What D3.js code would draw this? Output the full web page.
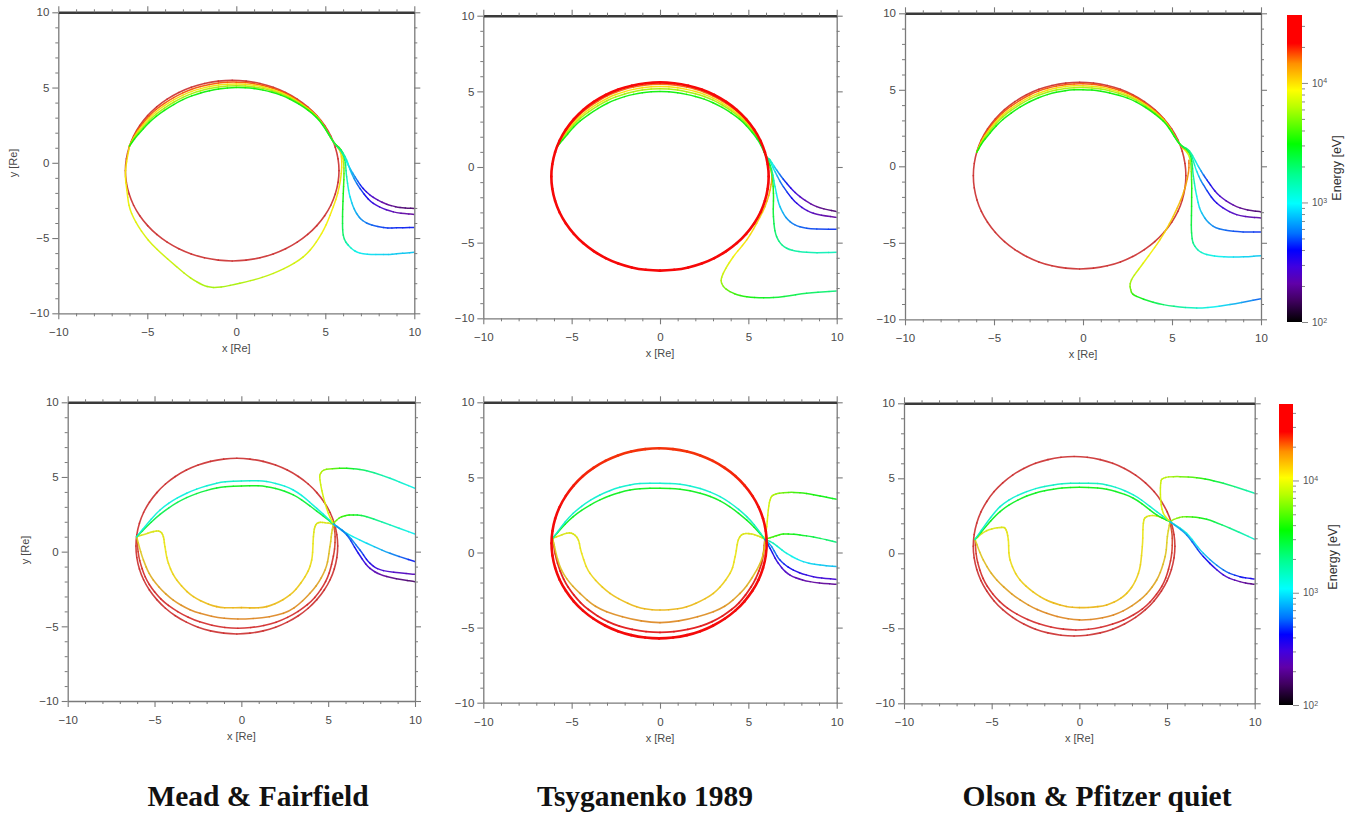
<!DOCTYPE html>
<html><head><meta charset="utf-8">
<script src="https://cdn.jsdelivr.net/npm/d3@7"></script>
<style>body{margin:0;background:#fff}svg{display:block}</style>
</head><body>
<svg id="chart" width="1352" height="816"></svg>
<script>
// ---------------- DATA (x [Re], y [Re], energy [eV]) ----------------
const titles = ["Mead & Fairfield", "Tsyganenko 1989", "Olson & Pfitzer quiet"];
const axisMajorTicks = [-10, -5, 0, 5, 10];
const axisMinorTicks = [-9,-8,-7,-6,-4,-3,-2,-1,1,2,3,4,6,7,8,9];
const cbarMajorTicks = [100, 1000, 10000];
const cbarMinorTicks = [200,300,400,500,600,700,800,900,2000,3000,4000,5000,6000,7000,8000,9000,20000,30000,40000];
const cbarMaxTop = 37000, cbarMaxBottom = 48000;

// Mead & Fairfield, top
const mfTopRing = [[5.77,-0.52,28000],[5.31,1.78,28000],[4.01,3.72,30000],[2.07,5.02,30000],[-0.23,5.48,30000],[-2.53,5.02,30000],[-4.47,3.72,30000],[-5.77,1.78,30000],[-6.23,-0.52,28000],[-5.77,-2.82,26000],[-4.47,-4.76,26000],[-2.53,-6.06,26000],[-0.23,-6.52,26000],[2.07,-6.06,26000],[4.01,-4.76,26000],[5.31,-2.82,26000]];
const mfTopA = [[10,-3.03,160],[9.2,-2.97,170],[8.45,-2.75,200],[7.7,-2.3,260],[7.13,-1.71,380],[6.67,-0.93,600],[6.29,-0.16,900],[5.95,0.65,1500],[5.45,1.41,2400],[4.5,3.02,3000],[3.0,4.24,3100],[1.5,4.83,3100],[0,5.0,3100],[-1.5,4.79,3100],[-3.0,4.2,3100],[-4.5,3.09,3100],[-5.5,1.9,3100],[-6.0,1.12,3100]];
const mfTopB = [[10,-3.43,200],[8.82,-3.26,230],[7.7,-2.7,320],[6.95,-1.71,480],[6.48,-0.71,750],[6.2,0.18,1200],[5.88,0.85,2200],[5.45,1.41,4000],[4.5,3.06,5500],[3.0,4.32,5900],[1.5,4.93,5900],[0,5.12,5900],[-1.5,4.93,5900],[-3.0,4.35,5900],[-4.5,3.24,5900],[-5.5,2.01,5900],[-6.0,1.12,5900]];
const mfTopC = [[10,-4.3,420],[9.0,-4.32,440],[8.26,-4.3,470],[7.32,-4.0,560],[6.76,-3.37,700],[6.39,-2.26,900],[6.2,-0.93,1300],[6.1,0.18,2200],[5.85,0.9,4500],[5.45,1.41,7000],[4.5,3.1,9000],[3.0,4.39,9500],[1.5,5.03,9500],[0,5.24,9500],[-1.5,5.07,9500],[-3.0,4.5,9500],[-4.5,3.39,9500],[-5.5,2.13,9500],[-6.0,1.12,9500]];
const mfTopD = [[10,-5.95,800],[9.0,-6.05,820],[8.26,-6.1,850],[6.95,-6.0,950],[6.29,-5.47,1300],[6.01,-4.8,2000],[5.97,-3.59,2600],[6.01,-2.04,3000],[6.05,-0.71,4000],[6.0,0.3,7000],[5.75,1.0,11000],[5.45,1.41,15000],[4.5,3.13,17000],[3.0,4.47,17000],[1.5,5.13,17000],[0,5.36,17000],[-1.5,5.2,17000],[-3.0,4.65,17000],[-4.5,3.54,17000],[-5.5,2.24,17000],[-6.0,1.12,17000]];
const mfTopLoop = [[-6.0,1.12,9500],[-6.22,-0.5,9000],[-6.15,-1.8,8500],[-5.88,-3.37,8000],[-4.94,-5.14,7500],[-3.35,-6.91,6800],[-2.23,-7.9,6200],[-1.29,-8.28,5800],[0.2,-8.0,6000],[2.08,-7.35,6800],[3.76,-6.25,7500],[4.79,-4.7,8500],[5.45,-2.92,9000],[5.78,-1.6,9500],[5.92,-0.3,9500],[5.85,0.7,10000],[5.45,1.41,11000]];

// Tsyganenko 1989, top
const t89TopRing = [[6.15,-0.63,30000],[5.68,1.75,30000],[4.35,3.77,30000],[2.36,5.12,30000],[0,5.59,30000],[-2.36,5.12,30000],[-4.35,3.77,30000],[-5.68,1.75,30000],[-6.15,-0.63,30000],[-5.68,-3.01,30000],[-4.35,-5.03,30000],[-2.36,-6.38,30000],[0,-6.85,30000],[2.36,-6.38,30000],[4.35,-5.03,30000],[5.68,-3.01,30000]];
const t89TopA = [[10,-2.95,160],[8.87,-2.62,190],[7.92,-1.96,260],[7.17,-1.08,400],[6.6,-0.2,700],[6.23,0.46,1300],[6.0,0.73,2000],[5.5,1.85,2800],[4.5,3.16,3100],[3.0,4.25,3100],[1.5,4.8,3100],[0,4.99,3100],[-1.5,4.8,3100],[-3.0,4.2,3100],[-4.5,3.06,3100],[-5.5,1.8,3100],[-5.85,1.29,3100]];
const t89TopB = [[10,-3.33,200],[8.68,-3.06,240],[7.74,-2.4,330],[6.98,-1.3,500],[6.51,-0.31,850],[6.23,0.35,1500],[6.0,0.73,3000],[5.5,1.94,5000],[4.5,3.3,5900],[3.0,4.42,5900],[1.5,4.98,5900],[0,5.17,5900],[-1.5,4.98,5900],[-3.0,4.38,5900],[-4.5,3.23,5900],[-5.5,1.91,5900],[-5.85,1.29,5900]];
const t89TopC = [[10,-4.12,450],[8.3,-4.05,500],[7.36,-3.61,600],[6.79,-2.62,800],[6.51,-1.3,1100],[6.32,-0.2,1800],[6.0,0.73,5000],[5.5,2.02,8000],[4.5,3.41,9500],[3.0,4.55,9500],[1.5,5.13,9500],[0,5.32,9500],[-1.5,5.13,9500],[-3.0,4.53,9500],[-4.5,3.36,9500],[-5.5,1.99,9500],[-5.85,1.29,9500]];
const t89TopD = [[10,-5.64,1300],[8.3,-5.64,1400],[7.17,-5.37,1600],[6.6,-4.6,1900],[6.42,-3.28,2400],[6.42,-1.74,3000],[6.32,-0.42,4500],[6.0,0.73,9000],[5.5,2.09,14000],[4.5,3.52,16000],[3.0,4.69,16000],[1.5,5.28,16000],[0,5.47,16000],[-1.5,5.28,16000],[-3.0,4.68,16000],[-4.5,3.5,16000],[-5.5,2.08,16000],[-5.85,1.29,16000]];
const t89TopE = [[10,-8.19,1800],[8.3,-8.35,2100],[6.42,-8.63,2600],[4.91,-8.57,3200],[3.96,-8.24,4000],[3.49,-7.69,5500],[3.58,-7.03,7000],[4.15,-5.93,8500],[4.91,-4.82,9500],[5.47,-3.72,10000],[5.94,-2.62,11000],[6.23,-1.52,12000],[6.32,-0.42,14000],[6.0,0.73,17000]];

// Olson & Pfitzer quiet, top
const opTopRing = [[5.78,-0.61,28000],[5.33,1.73,28000],[4.03,3.70,30000],[2.10,5.03,30000],[-0.19,5.49,30000],[-2.48,5.03,30000],[-4.41,3.70,30000],[-5.71,1.73,30000],[-6.16,-0.61,28000],[-5.71,-2.95,26000],[-4.41,-4.92,26000],[-2.48,-6.25,26000],[-0.19,-6.71,26000],[2.10,-6.25,26000],[4.03,-4.92,26000],[5.33,-2.95,26000]];
const opTopA = [[10,-2.98,160],[8.82,-2.72,190],[7.7,-1.96,270],[6.95,-0.87,450],[6.48,0,800],[5.98,1.0,1700],[5.4,1.5,2600],[4.5,2.96,3100],[3.0,4.2,3100],[1.5,4.79,3100],[0,5.01,3100],[-1.5,4.84,3100],[-3.0,4.22,3100],[-4.5,3.06,3100],[-5.5,1.78,3100],[-5.97,0.92,3100]];
const opTopB = [[10,-3.38,210],[8.63,-3.16,250],[7.51,-2.4,340],[6.76,-1.2,550],[6.39,-0.33,900],[6.0,0.9,2100],[5.4,1.5,4500],[4.5,3.02,5900],[3.0,4.31,5900],[1.5,4.93,5900],[0,5.15,5900],[-1.5,4.99,5900],[-3.0,4.39,5900],[-4.5,3.23,5900],[-5.5,1.9,5900],[-5.97,0.92,5900]];
const opTopC = [[10,-4.29,450],[8.45,-4.25,500],[7.32,-3.92,600],[6.67,-3.05,800],[6.39,-1.96,1000],[6.2,-0.65,1500],[6.02,0.75,3200],[5.4,1.5,7500],[4.5,3.07,9500],[3.0,4.39,9500],[1.5,5.04,9500],[0,5.27,9500],[-1.5,5.12,9500],[-3.0,4.52,9500],[-4.5,3.36,9500],[-5.5,2.0,9500],[-5.97,0.92,9500]];
const opTopD = [[10,-5.84,800],[8.45,-5.93,900],[6.95,-5.77,1100],[6.29,-5.23,1500],[6.1,-4.36,2200],[6.1,-2.61,2800],[6.1,-0.87,3500],[5.98,0.6,6500],[5.4,1.5,13000],[4.5,3.12,17000],[3.0,4.48,17000],[1.5,5.15,17000],[0,5.39,17000],[-1.5,5.24,17000],[-3.0,4.66,17000],[-4.5,3.5,17000],[-5.5,2.1,17000],[-5.97,0.92,17000]];
const opTopE = [[10,-8.65,500],[8.26,-9.04,800],[6.39,-9.26,1200],[4.51,-9.04,2000],[3.01,-8.5,3200],[2.68,-8.06,4500],[2.73,-7.41,6000],[3.39,-6.32,8000],[4.33,-4.79,9500],[5.07,-3.27,10500],[5.64,-1.74,12000],[5.92,-0.44,14000],[5.95,0.4,16000]];

// Mead & Fairfield, bottom
const mfBotRing = [[5.55,0.37,35000],[5.11,2.62,35000],[3.85,4.53,35000],[1.97,5.8,35000],[-0.26,6.25,35000],[-2.49,5.8,35000],[-4.37,4.53,35000],[-5.63,2.62,35000],[-6.07,0.37,35000],[-5.63,-1.88,35000],[-4.37,-3.79,35000],[-2.49,-5.06,35000],[-0.26,-5.51,35000],[1.97,-5.06,35000],[3.85,-3.79,35000],[5.11,-1.88,35000]];
const mfBotRing2 = [[-6.03,1.0,24000],[-5.85,-0.6,26000],[-5.3,-2.2,28000],[-4.2,-3.6,30000],[-2.4,-4.7,30000],[-0.2,-5.13,30000],[2.0,-4.72,30000],[3.8,-3.55,30000],[4.85,-2.0,28000],[5.3,-0.3,26000],[5.4,1.0,24000],[5.3,1.85,22000]];
const mfBotRing3 = [[-6.03,1.0,10000],[-5.64,-0.56,12000],[-5.07,-1.9,14000],[-3.92,-3.24,16000],[-2.38,-4.13,18000],[-0.2,-4.51,18000],[2.42,-4.13,18000],[3.95,-2.79,16000],[4.82,-1.23,14000],[5.1,0.33,12000],[5.2,1.23,10500],[5.3,1.85,10000]];
const mfBotRing4 = [[-6.03,1.0,9000],[-5.07,1.34,9500],[-4.68,1.34,9500],[-4.49,1.0,10000],[-4.4,0.33,10500],[-4.2,-0.78,11000],[-3.72,-1.9,12000],[-2.76,-3.01,13000],[-1.42,-3.68,14000],[0,-3.75,14000],[1.46,-3.68,14000],[2.8,-2.9,13000],[3.67,-1.67,12000],[4.05,-0.56,11000],[4.15,1.0,10000],[4.24,1.67,9500],[4.43,1.94,9500],[4.82,1.94,9500],[5.3,1.85,9500]];
const mfBotCyan = [[-6.03,1.0,1300],[-4.68,2.79,1200],[-3.15,3.91,1200],[-1.42,4.58,1300],[0,4.73,1400],[1.46,4.69,1300],[2.99,4.13,1200],[4.34,2.9,1200],[5.3,1.85,1300]];
const mfBotGreen = [[-6.03,1.0,3500],[-4.68,2.5,2600],[-3.15,3.62,2600],[-1.42,4.26,3000],[0,4.4,3500],[1.46,4.35,3200],[2.99,3.8,3000],[4.34,2.72,2800],[5.3,1.85,3500]];
const mfBotR1 = [[5.3,1.85,10000],[5.01,2.57,9500],[4.72,3.68,9000],[4.53,4.8,8500],[4.57,5.25,8000],[4.91,5.51,6500],[6.07,5.58,3500],[7.22,5.42,2200],[8.56,4.91,1500],[10,4.24,1100]];
const mfBotR2 = [[5.3,1.85,6000],[5.39,2.0,6000],[5.78,2.34,4500],[6.45,2.46,3500],[7.22,2.34,2500],[8.56,1.79,1500],[10,1.18,1000]];
const mfBotR3 = [[5.3,1.85,1500],[6.07,1.23,1200],[7.22,0.56,1000],[8.56,-0.11,700],[10,-0.67,420]];
const mfBotR4 = [[5.3,1.85,1000],[6.07,1.18,800],[6.83,0.11,550],[7.41,-0.78,380],[8.18,-1.27,300],[10,-1.52,250]];
const mfBotR5 = [[5.3,1.85,800],[6.07,1.12,600],[6.74,-0.11,400],[7.41,-1.12,280],[8.37,-1.67,200],[10,-2.01,160]];

// Tsyganenko 1989, bottom
const t89BotRing = [[6.04,0.61,30000],[5.58,3.03,27000],[4.26,5.09,25000],[2.28,6.46,24000],[-0.05,6.94,24000],[-2.38,6.46,24000],[-4.36,5.09,25000],[-5.68,3.03,27000],[-6.14,0.61,30000],[-5.68,-1.81,34000],[-4.36,-3.87,36000],[-2.38,-5.24,36000],[-0.05,-5.72,36000],[2.28,-5.24,36000],[4.26,-3.87,36000],[5.58,-1.81,34000]];
const t89BotRing2 = [[-6.08,0.94,24000],[-5.8,-0.7,26000],[-5.2,-2.3,28000],[-4.05,-3.8,30000],[-2.3,-4.9,30000],[0,-5.32,30000],[2.3,-4.9,30000],[4.05,-3.8,30000],[5.15,-2.3,28000],[5.75,-0.7,26000],[5.94,0.88,24000]];
const t89BotRing3 = [[-6.08,0.94,10000],[-5.57,-1.17,12000],[-4.53,-2.72,15000],[-3.02,-3.94,17000],[0,-4.67,18000],[3.02,-3.94,17000],[4.53,-2.72,15000],[5.47,-1.17,12000],[5.85,-0.06,11000],[5.94,0.88,10000]];
const t89BotRing4 = [[-6.08,0.94,9500],[-5.28,1.28,9500],[-4.91,1.23,9500],[-4.62,0.83,10000],[-4.43,-0.06,10500],[-3.96,-1.39,11500],[-2.83,-2.72,13000],[-1.32,-3.61,14000],[0,-3.83,14000],[1.51,-3.61,14000],[3.02,-2.72,13000],[3.96,-1.39,11500],[4.25,-0.28,10500],[4.43,0.83,10000],[4.72,1.23,9500],[5.19,1.23,9500],[5.66,1.05,9500],[5.94,0.88,9500]];
const t89BotCyan = [[-6.08,0.94,1400],[-4.91,2.61,1300],[-3.4,3.83,1300],[-1.7,4.5,1300],[0,4.61,1300],[1.7,4.43,1300],[3.4,3.72,1300],[4.91,2.39,1400],[5.94,0.88,1500]];
const t89BotGreen = [[-6.08,0.94,3500],[-4.91,2.39,3200],[-3.4,3.5,3200],[-1.7,4.16,3300],[0,4.27,3500],[1.7,4.11,3300],[3.4,3.44,3200],[4.91,2.16,3200],[5.94,0.88,3500]];
const t89BotR1 = [[5.94,0.88,10000],[6.04,1.72,9500],[6.13,2.83,9000],[6.23,3.5,8500],[6.42,3.83,7500],[6.98,3.98,5500],[7.92,3.98,4200],[9.06,3.76,3500],[10,3.54,3200]];
const t89BotR2 = [[5.94,0.88,5000],[6.42,1.05,4500],[6.98,1.23,4000],[7.92,1.17,3200],[9.06,0.94,2500],[10,0.68,2000]];
const t89BotR3 = [[5.94,0.88,1800],[6.42,0.61,1500],[7.17,-0.06,1200],[8.11,-0.61,1000],[9.06,-0.83,900],[10,-0.94,850]];
const t89BotR4 = [[5.94,0.88,900],[6.32,0.39,700],[6.79,-0.5,500],[7.55,-1.17,400],[8.68,-1.61,330],[10,-1.79,300]];
const t89BotR5 = [[5.94,0.88,600],[6.23,0.28,450],[6.7,-0.72,330],[7.36,-1.5,260],[8.49,-1.94,220],[10,-2.12,200]];

// Olson & Pfitzer quiet, bottom
const opBotRing = [[5.45,0.47,35000],[5.01,2.76,35000],[3.77,4.70,35000],[1.9,6.0,35000],[-0.3,6.45,35000],[-2.5,6.0,35000],[-4.37,4.70,35000],[-5.61,2.76,35000],[-6.05,0.47,35000],[-5.61,-1.82,35000],[-4.37,-3.76,35000],[-2.5,-5.06,35000],[-0.3,-5.51,35000],[1.9,-5.06,35000],[3.77,-3.76,35000],[5.01,-1.82,35000]];
const opBotRing2 = [[-5.95,0.93,24000],[-5.8,-0.6,26000],[-5.25,-2.2,28000],[-4.1,-3.65,30000],[-2.3,-4.7,30000],[-0.2,-5.11,30000],[1.9,-4.72,30000],[3.6,-3.7,30000],[4.7,-2.2,28000],[5.2,-0.5,26000],[5.3,1.0,24000],[5.17,2.11,22000]];
const opBotRing3 = [[-5.95,0.93,10000],[-5.48,-0.44,12000],[-4.71,-1.78,14000],[-3.38,-3.11,16000],[-1.86,-4.0,18000],[0,-4.44,18000],[1.94,-4.11,18000],[3.46,-3.11,16000],[4.41,-1.78,14000],[4.89,-0.22,12000],[5.02,1.11,10500],[5.17,2.11,10000]];
const opBotRing4 = [[-5.95,0.93,9000],[-5.29,1.51,9500],[-4.43,1.73,9500],[-4.18,1.56,10000],[-4.05,0.89,10500],[-3.95,-0.44,11000],[-3.38,-1.78,12000],[-2.24,-2.89,13000],[-1.1,-3.44,14000],[0,-3.62,14000],[1.56,-3.44,14000],[2.7,-2.67,13000],[3.37,-1.33,12000],[3.59,0.44,11000],[3.65,2.0,10000],[3.84,2.44,9500],[4.41,2.49,9500],[5.17,2.11,9500]];
const opBotCyan = [[-5.95,0.93,1400],[-4.52,3.11,1300],[-3.0,4.11,1300],[-1.48,4.56,1400],[0,4.67,1500],[1.56,4.56,1400],[3.08,3.89,1300],[4.41,2.78,1300],[5.17,2.11,1400]];
const opBotGreen = [[-5.95,0.93,3500],[-4.52,2.78,3200],[-3.0,3.82,3200],[-1.48,4.27,3300],[0,4.4,3500],[1.56,4.27,3300],[3.08,3.67,3200],[4.41,2.56,3200],[5.17,2.11,3500]];
const opBotR1 = [[5.17,2.11,10000],[4.79,2.67,9500],[4.64,3.56,9000],[4.64,4.67,8500],[4.79,5.0,8000],[5.36,5.11,7000],[6.69,5.04,4500],[8.21,4.67,2500],[10,4.0,1500]];
const opBotR2 = [[5.17,2.11,7000],[5.55,2.33,6500],[6.12,2.44,5000],[7.26,2.27,3200],[8.59,1.67,2000],[10,0.93,1250]];
const opBotR3 = [[5.17,2.11,1500],[6.12,1.33,1200],[7.07,0,900],[8.21,-1.11,600],[9.16,-1.56,450],[10,-1.71,380]];
const opBotR4 = [[5.17,2.11,900],[6.12,1.22,700],[7.07,-0.22,450],[8.21,-1.44,300],[9.16,-1.89,220],[10,-2.07,180]];

// colour table (fraction of colour bar -> colour)
const cmapStops = [[0,'#000000'],[0.07,'#400060'],[0.125,'#6000a8'],[0.18,'#4000e0'],[0.234,'#0000ff'],[0.288,'#0070ff'],[0.386,'#00ffff'],[0.48,'#00ff90'],[0.58,'#00ff00'],[0.70,'#b8ff00'],[0.755,'#ffff00'],[0.842,'#ff9000'],[0.908,'#ff0000'],[1,'#ff0000']];

// ---------------- LAYOUT / STYLE ----------------
const styles = {
  ring:  {w:1.6, dim:0.45, op:0.9},
  ring2: {w:1.6, dim:0.4, op:0.9},
  ring3: {w:1.6, dim:0.3, op:0.9},
  ring4: {w:1.6, dim:0.18, op:0.9},
  bright:{w:2.6, dim:0.08, op:1},
  brightB:{w:2.6, dim:0.1, op:1},
  ring2b:{w:1.8, dim:0.25, op:0.95},
  line:  {w:1.5, dim:0.1, op:0.95}
};
const panels = [
  {box:[58.3,414.3,12.3,313.3], max:cbarMaxTop, ylab:[13,163], curves:[
    [mfTopRing,true,'ring'],[mfTopLoop,false,'line'],[mfTopD,false,'line'],[mfTopC,false,'line'],[mfTopB,false,'line'],[mfTopA,false,'line']]},
  {box:[483.3,836.7,15.7,318.3], max:cbarMaxTop, curves:[
    [t89TopE,false,'line'],[t89TopD,false,'line'],[t89TopC,false,'line'],[t89TopB,false,'line'],[t89TopA,false,'line'],[t89TopRing,true,'bright']]},
  {box:[905,1261,13.3,319.3], max:cbarMaxTop, curves:[
    [opTopRing,true,'ring'],[opTopE,false,'line'],[opTopD,false,'line'],[opTopC,false,'line'],[opTopB,false,'line'],[opTopA,false,'line']]},
  {box:[67.7,415,402.3,701], max:cbarMaxBottom, ylab:[25,550], curves:[
    [mfBotRing,true,'ring'],[mfBotRing2,false,'ring2'],[mfBotRing3,false,'ring3'],[mfBotRing4,false,'ring4'],[mfBotGreen,false,'line'],[mfBotCyan,false,'line'],
    [mfBotR1,false,'line'],[mfBotR2,false,'line'],[mfBotR3,false,'line'],[mfBotR4,false,'line'],[mfBotR5,false,'line']]},
  {box:[483.3,836.7,402.3,702.7], max:cbarMaxBottom, curves:[
    [t89BotRing2,false,'ring2b'],[t89BotRing3,false,'ring3'],[t89BotRing4,false,'ring4'],[t89BotGreen,false,'line'],[t89BotCyan,false,'line'],
    [t89BotR1,false,'line'],[t89BotR2,false,'line'],[t89BotR3,false,'line'],[t89BotR4,false,'line'],[t89BotR5,false,'line'],[t89BotRing,true,'brightB']]},
  {box:[904,1254.7,403.3,703.3], max:cbarMaxBottom, curves:[
    [opBotRing,true,'ring'],[opBotRing2,false,'ring2'],[opBotRing3,false,'ring3'],[opBotRing4,false,'ring4'],[opBotGreen,false,'line'],[opBotCyan,false,'line'],
    [opBotR1,false,'line'],[opBotR2,false,'line'],[opBotR3,false,'line'],[opBotR4,false,'line']]}
];
const cbars = [
  {box:[1287,1302,15,322], max:cbarMaxTop, lab:[1337,168]},
  {box:[1279,1293,404,705], max:cbarMaxBottom, lab:[1333,557]}
];
const titleX = [258, 645, 1097], titleY = 806;

// ---------------- DRAWING ----------------
const svg = d3.select('#chart');
svg.append('rect').attr('width',1352).attr('height',816).attr('fill','#fff');
const cmap = d3.scaleLinear().domain(cmapStops.map(d=>d[0])).range(cmapStops.map(d=>d[1]))
  .interpolate(d3.interpolateRgb).clamp(true);
const FONT = "'Liberation Sans', Arial, Helvetica, sans-serif";
const AX = '#7a7a7a';

function lerp(a,b,t){return [a[0]+(b[0]-a[0])*t, a[1]+(b[1]-a[1])*t];}
function splitBez(b,t){
  const [a,b1,c,d]=b; const ab=lerp(a,b1,t), bc=lerp(b1,c,t), cd=lerp(c,d,t);
  const abc=lerp(ab,bc,t), bcd=lerp(bc,cd,t), m=lerp(abc,bcd,t);
  return [[a,ab,abc,m],[m,bcd,cd,d]];
}

function drawCurve(g, x, y, fScale, pts, closed, st){
  const n = pts.length;
  const P = pts.map(d=>[x(d[0]), y(d[1])]);
  const segs = closed ? n : n-1;
  const K = 3;
  for(let i=0;i<segs;i++){
    const i0 = closed ? (i-1+n)%n : Math.max(i-1,0);
    const i2 = closed ? (i+1)%n : i+1;
    const i3 = closed ? (i+2)%n : Math.min(i+2,n-1);
    const p0=P[i0], p1=P[i], p2=P[i2], p3=P[i3];
    const c1=[p1[0]+(p2[0]-p0[0])/6, p1[1]+(p2[1]-p0[1])/6];
    const c2=[p2[0]-(p3[0]-p1[0])/6, p2[1]-(p3[1]-p1[1])/6];
    let rest=[p1,c1,c2,p2];
    const la=Math.log10(pts[i][2]), lb=Math.log10(pts[i2][2]);
    for(let k=0;k<K;k++){
      let piece;
      if(k<K-1){ const s=splitBez(rest,1/(K-k)); piece=s[0]; rest=s[1]; } else piece=rest;
      const t=(k+0.5)/K;
      const E=Math.pow(10, la+(lb-la)*t);
      let col=cmap(fScale(E));
      col=d3.interpolateRgb(col,'#8c6464')(st.dim);
      const pth=d3.path();
      pth.moveTo(piece[0][0],piece[0][1]);
      pth.bezierCurveTo(piece[1][0],piece[1][1],piece[2][0],piece[2][1],piece[3][0],piece[3][1]);
      g.append('path').attr('d',pth.toString()).attr('fill','none').attr('stroke',col)
        .attr('stroke-width',st.w).attr('stroke-linecap','round').attr('stroke-opacity',st.op);
    }
  }
}

panels.forEach((p,pi)=>{
  const [x0,x1,y0,y1]=p.box;
  const x=d3.scaleLinear().domain([-10,10]).range([x0,x1]);
  const y=d3.scaleLinear().domain([10,-10]).range([y0,y1]);
  const fScale=d3.scaleLog().domain([100,p.max]).range([0,1]).clamp(true);
  const g=svg.append('g');
  const cid='clip'+pi;
  svg.append('defs').append('clipPath').attr('id',cid).append('rect')
    .attr('x',x0).attr('y',y0).attr('width',x1-x0).attr('height',y1-y0);
  const cg=g.append('g').attr('clip-path',`url(#${cid})`);
  p.curves.forEach(c=>drawCurve(cg,x,y,fScale,c[0],c[1],styles[c[2]]));

  const fmt=d3.format('d');
  function styleAxis(sel, width, color){
    sel.select('.domain').attr('stroke',color).attr('stroke-width',width);
    sel.selectAll('.tick line').attr('stroke',AX).attr('stroke-width',1.1);
    sel.selectAll('.tick text').attr('fill','#4a4a4a').style('font-family',FONT).style('font-size','11.5px');
  }
  const gb=g.append('g').attr('transform',`translate(0,${y1})`);
  gb.call(d3.axisBottom(x).tickValues(axisMajorTicks).tickSize(6).tickSizeOuter(0).tickPadding(9).tickFormat(fmt));
  styleAxis(gb,1.3,AX);
  const gbm=g.append('g').attr('transform',`translate(0,${y1})`);
  gbm.call(d3.axisBottom(x).tickValues(axisMinorTicks).tickSize(3).tickSizeOuter(0).tickFormat(''));
  gbm.select('.domain').remove(); gbm.selectAll('.tick line').attr('stroke',AX);
  const gl=g.append('g').attr('transform',`translate(${x0},0)`);
  gl.call(d3.axisLeft(y).tickValues(axisMajorTicks).tickSize(6).tickSizeOuter(0).tickPadding(3).tickFormat(fmt));
  styleAxis(gl,1.3,AX);
  const glm=g.append('g').attr('transform',`translate(${x0},0)`);
  glm.call(d3.axisLeft(y).tickValues(axisMinorTicks).tickSize(3).tickSizeOuter(0).tickFormat(''));
  glm.select('.domain').remove(); glm.selectAll('.tick line').attr('stroke',AX);
  const gr=g.append('g').attr('transform',`translate(${x1},0)`);
  gr.call(d3.axisRight(y).tickValues(axisMajorTicks).tickSize(6).tickSizeOuter(0).tickFormat(''));
  styleAxis(gr,1.3,AX);
  const grm=g.append('g').attr('transform',`translate(${x1},0)`);
  grm.call(d3.axisRight(y).tickValues(axisMinorTicks).tickSize(3).tickSizeOuter(0).tickFormat(''));
  grm.select('.domain').remove(); grm.selectAll('.tick line').attr('stroke',AX);
  const gt=g.append('g').attr('transform',`translate(0,${y0})`);
  gt.call(d3.axisTop(x).tickValues(axisMajorTicks).tickSize(6).tickSizeOuter(0).tickFormat(''));
  styleAxis(gt,2.4,'#3a3a3a');
  const gtm=g.append('g').attr('transform',`translate(0,${y0})`);
  gtm.call(d3.axisTop(x).tickValues(axisMinorTicks).tickSize(3).tickSizeOuter(0).tickFormat(''));
  gtm.select('.domain').remove(); gtm.selectAll('.tick line').attr('stroke',AX);

  g.append('text').attr('x',(x0+x1)/2).attr('y',y1+39).attr('text-anchor','middle')
    .style('font-family',FONT).style('font-size','11px').attr('fill','#4a4a4a').text('x [Re]');
  if(p.ylab){
    g.append('text').attr('transform',`translate(${p.ylab[0]},${p.ylab[1]}) rotate(-90)`)
      .attr('text-anchor','middle').attr('dy','0.35em')
      .style('font-family',FONT).style('font-size','11px').attr('fill','#4a4a4a').text('y [Re]');
  }
});

const defs=svg.append('defs');
const grad=defs.append('linearGradient').attr('id','cgrad').attr('x1',0).attr('y1',1).attr('x2',0).attr('y2',0);
cmapStops.forEach(s=>grad.append('stop').attr('offset',s[0]).attr('stop-color',s[1]));
cbars.forEach(cb=>{
  const [bx0,bx1,by0,by1]=cb.box;
  const ys=d3.scaleLog().domain([100,cb.max]).range([by1,by0]);
  const g=svg.append('g');
  g.append('rect').attr('x',bx0).attr('y',by0).attr('width',bx1-bx0).attr('height',by1-by0).attr('fill','url(#cgrad)');
  const ga=g.append('g').attr('transform',`translate(${bx1},0)`);
  ga.call(d3.axisRight(ys).tickValues(cbarMajorTicks).tickSize(6).tickSizeOuter(0).tickPadding(4).tickFormat(''));
  ga.select('.domain').remove();
  ga.selectAll('.tick line').attr('stroke','#888');
  ga.selectAll('.tick text').each(function(d){
    const t=d3.select(this).attr('fill','#555').style('font-family',FONT).style('font-size','10px');
    t.append('tspan').text('10');
    t.append('tspan').attr('dy','-0.45em').style('font-size','7px').text(String(Math.round(Math.log10(d))));
  });
  const gm=g.append('g').attr('transform',`translate(${bx1},0)`);
  gm.call(d3.axisRight(ys).tickValues(cbarMinorTicks.filter(v=>v<=cb.max)).tickSize(3).tickSizeOuter(0).tickFormat(''));
  gm.select('.domain').remove(); gm.selectAll('.tick line').attr('stroke','#888');
  g.append('text').attr('transform',`translate(${cb.lab[0]},${cb.lab[1]}) rotate(-90)`)
    .attr('text-anchor','middle').attr('dy','0.35em').style('font-family',FONT).style('font-size','12.5px')
    .attr('fill','#333').text('Energy [eV]');
});

svg.selectAll('text.ptitle').data(titles).enter().append('text').attr('class','ptitle')
  .attr('x',(d,i)=>titleX[i]).attr('y',titleY).attr('text-anchor','middle')
  .style('font-family',"'Liberation Serif','Times New Roman',serif").style('font-weight','bold')
  .style('font-size','29.5px').attr('fill','#111').text(d=>d);
</script></body></html>
